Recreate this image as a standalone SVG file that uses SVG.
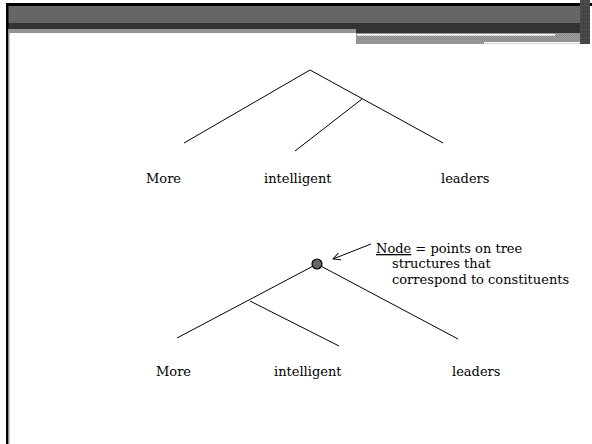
<svg xmlns="http://www.w3.org/2000/svg" width="592" height="444" viewBox="0 0 592 444">
  <style>
    .lbl { font-family: "DejaVu Serif", "Liberation Serif", serif; font-size: 13px; fill: #000; }
    .edge { stroke: #000; stroke-width: 1; fill: none; }
  </style>
  <defs>
    <pattern id="dither" width="2" height="2" patternUnits="userSpaceOnUse">
      <rect width="2" height="2" fill="#a0a0a0"/>
      <rect width="1" height="1" fill="#888"/>
      <rect x="1" y="1" width="1" height="1" fill="#888"/>
    </pattern>
    <pattern id="noise" width="4" height="4" patternUnits="userSpaceOnUse">
      <rect width="4" height="4" fill="#444"/>
      <rect x="0" y="0" width="1" height="1" fill="#5a5a5a"/>
      <rect x="2" y="1" width="1" height="1" fill="#555"/>
      <rect x="1" y="2" width="1" height="1" fill="#606060"/>
      <rect x="3" y="3" width="1" height="1" fill="#3a3a3a"/>
    </pattern>
    <marker id="open" viewBox="0 0 10 10" refX="9" refY="5" markerWidth="9" markerHeight="9" orient="auto" markerUnits="userSpaceOnUse">
      <path d="M1,1 L9,5 L1,9" fill="none" stroke="#000" stroke-width="1"/>
    </marker>
  </defs>

  <rect width="592" height="444" fill="#fff"/>

  <!-- header bar -->
  <g id="header">
    <rect x="6" y="3" width="586" height="3" fill="#000"/>
    <rect x="8" y="6" width="574" height="17" fill="#666"/>
    <rect x="8" y="23" width="574" height="6" fill="#333"/>
    <rect x="9" y="29" width="347" height="4" fill="url(#dither)"/>
    <rect x="356" y="29" width="226" height="4" fill="#333"/>
    <rect x="356" y="33" width="232" height="11" fill="url(#dither)"/>
    <rect x="357" y="34" width="198" height="1.6" fill="#fff"/>
    <rect x="484" y="42" width="103" height="1.6" fill="#fff"/>
    <rect x="580" y="0" width="10" height="44" fill="url(#noise)"/>
    <rect x="6" y="3" width="2.5" height="441" fill="#000"/>
    <rect x="8.5" y="29" width="1" height="415" fill="#999"/>
  </g>

  <!-- upper tree: [More [intelligent leaders]] -->
  <g id="connectors-upper">
    <line class="edge" x1="310" y1="70" x2="184" y2="143"/>
    <line class="edge" x1="310" y1="70" x2="443" y2="143"/>
    <line class="edge" x1="362" y1="99" x2="295" y2="151"/>
  </g>
  <g id="upper-more"><text class="lbl" x="146" y="183">More</text></g>
  <g id="upper-intelligent"><text class="lbl" x="264" y="183">intelligent</text></g>
  <g id="upper-leaders"><text class="lbl" x="441" y="183">leaders</text></g>

  <!-- lower tree: [[More intelligent] leaders] -->
  <g id="connectors-lower">
    <line class="edge" x1="317" y1="264" x2="177" y2="338"/>
    <line class="edge" x1="317" y1="264" x2="458" y2="339"/>
    <line class="edge" x1="250" y1="301" x2="339" y2="346"/>
    <line class="edge" x1="371" y1="244" x2="333" y2="259" marker-end="url(#open)"/>
  </g>
  <g id="root-node">
    <circle cx="317" cy="264" r="5" fill="#666" stroke="#000" stroke-width="1.2"/>
  </g>
  <g id="lower-more"><text class="lbl" x="156" y="376">More</text></g>
  <g id="lower-intelligent"><text class="lbl" x="274" y="376">intelligent</text></g>
  <g id="lower-leaders"><text class="lbl" x="452" y="376">leaders</text></g>

  <!-- annotation -->
  <g id="note">
    <text class="lbl" x="376" y="253"><tspan text-decoration="underline">Node</tspan> = points on tree</text>
    <text class="lbl" x="392" y="268">structures that</text>
    <text class="lbl" x="392" y="284">correspond to constituents</text>
  </g>
</svg>
